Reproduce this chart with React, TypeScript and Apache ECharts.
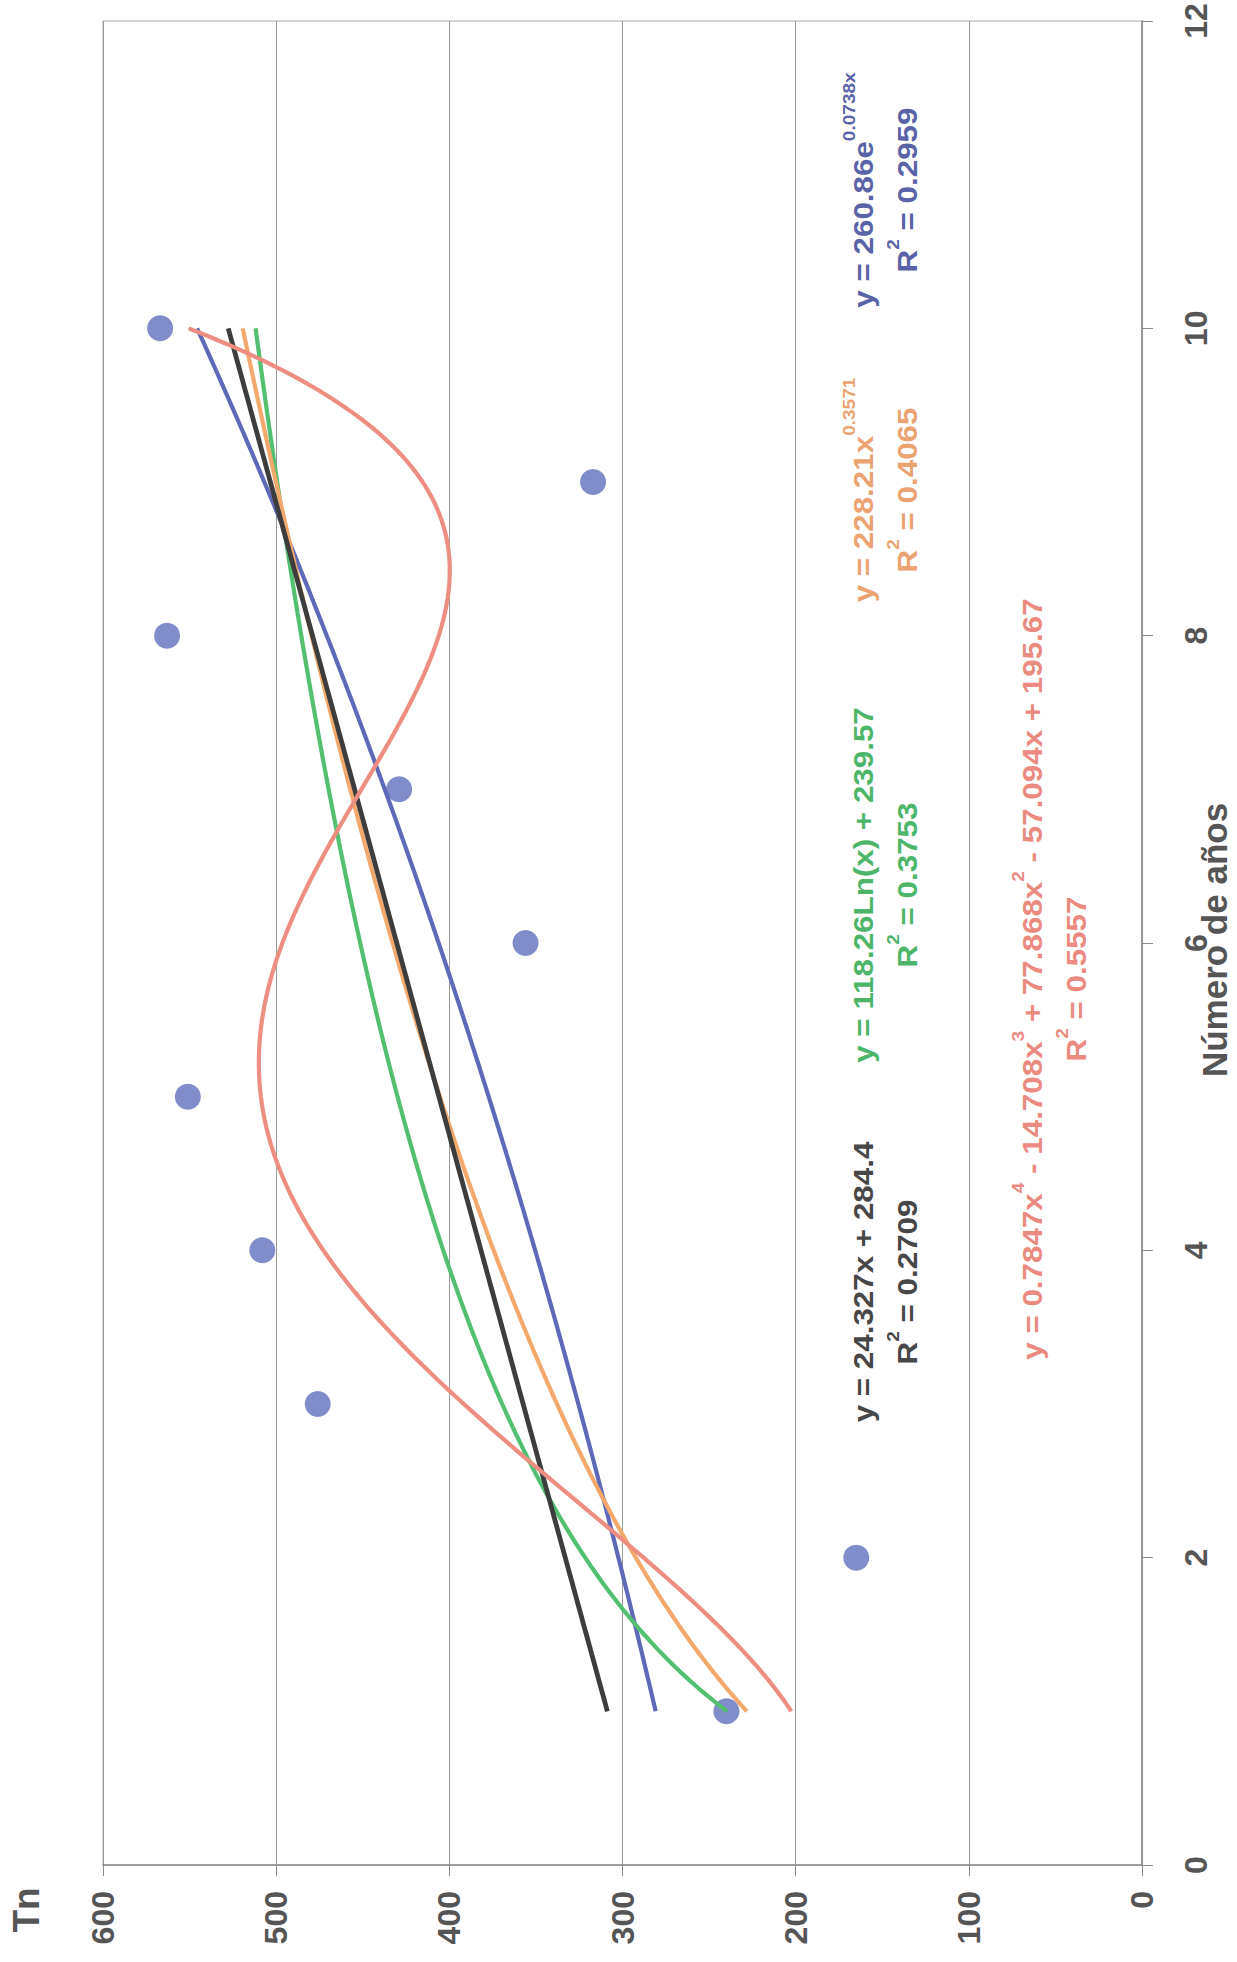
import React, { useEffect, useRef } from "react";
import * as echarts from "echarts";

// ---- data ----
const years = [1, 2, 3, 4, 5, 6, 7, 8, 9, 10];
const tnValues = [240, 165, 476, 508, 551, 356, 429, 563, 317, 567];
const tnTicks = [0, 100, 200, 300, 400, 500, 600];
const yearTicks = [0, 2, 4, 6, 8, 10, 12];

// trendline coefficients as printed on the chart
const linearCoef = [24.327, 284.4];
const expCoef = [260.86, 0.0738];
const powerCoef = [228.21, 0.3571];
const logCoef = [118.26, 239.57];
const polyCoef = [0.7847, -14.708, 77.868, -57.094, 195.67];
const trendRange = [1, 10];

const eqLinear = "y = 24.327x + 284.4\nR{sup|2} = 0.2709";
const eqExp = "y = 260.86e{sup|0.0738x}\nR{sup|2} = 0.2959";
const eqPower = "y = 228.21x{sup|0.3571}\nR{sup|2} = 0.4065";
const eqLog = "y = 118.26Ln(x) + 239.57\nR{sup|2} = 0.3753";
const eqPoly =
  "y = 0.7847x{sup|4} - 14.708x{sup|3} + 77.868x{sup|2} - 57.094x + 195.67\nR{sup|2} = 0.5557";

const FONT = "'Liberation Sans', Arial, sans-serif";

function trend(f: (x: number) => number) {
  const out: number[][] = [];
  const n = 180;
  for (let i = 0; i <= n; i++) {
    const x = trendRange[0] + ((trendRange[1] - trendRange[0]) * i) / n;
    out.push([f(x), x]);
  }
  return out;
}

function eqText(x: number, y: number, text: string, color: string) {
  return {
    type: "text",
    x,
    y,
    rotation: Math.PI / 2,
    scaleX: 1.12,
    z: 100,
    style: {
      text,
      fill: color,
      fontSize: 28,
      fontWeight: "bold",
      fontFamily: FONT,
      align: "center",
      verticalAlign: "middle",
      lineHeight: 44,
      rich: {
        sup: {
          fontSize: 17,
          fontWeight: "bold",
          fontFamily: FONT,
          fill: color,
          verticalAlign: "top",
          lineHeight: 24,
        },
      },
    },
  };
}

export default function App() {
  const ref = useRef<HTMLDivElement>(null);
  useEffect(() => {
    if (!ref.current) return;
    const chart = echarts.init(ref.current, null, { renderer: "svg" });
    const lineStyle = (c: string, w = 4.2) => ({ color: c, width: w });
    chart.setOption({
      animation: false,
      backgroundColor: "#ffffff",
      grid: {
        left: 103,
        right: 95,
        top: 21,
        bottom: 97,
        show: true,
        borderColor: "#a8a8a8",
        borderWidth: 1,
      },
      xAxis: {
        type: "value",
        min: tnTicks[0],
        max: tnTicks[tnTicks.length - 1],
        interval: tnTicks[1] - tnTicks[0],
        inverse: true,
        position: "bottom",
        axisLine: { show: true, lineStyle: { color: "#8a8a8a", width: 1.5 } },
        axisTick: { show: true, length: 11, lineStyle: { color: "#8a8a8a" } },
        splitLine: { show: true, lineStyle: { color: "#9a9a9a", width: 1 } },
        axisLabel: {
          rotate: 90,
          margin: 26,
          fontSize: 32,
          fontWeight: "bold",
          fontFamily: FONT,
          color: "#555555",
        },
      },
      yAxis: {
        type: "value",
        min: yearTicks[0],
        max: yearTicks[yearTicks.length - 1],
        interval: yearTicks[1] - yearTicks[0],
        position: "right",
        axisLine: { show: true, lineStyle: { color: "#8a8a8a", width: 1.5 } },
        axisTick: { show: true, length: 11, lineStyle: { color: "#8a8a8a" } },
        splitLine: { show: false },
        axisLabel: {
          rotate: 90,
          margin: 38,
          fontSize: 32,
          fontWeight: "bold",
          fontFamily: FONT,
          color: "#555555",
        },
      },
      series: [
        {
          type: "scatter",
          data: years.map((y, i) => [tnValues[i], y]),
          symbolSize: 26,
          itemStyle: { color: "#6270bd" },
          z: 1,
        },
        {
          type: "line",
          data: trend((x) => expCoef[0] * Math.exp(expCoef[1] * x)),
          showSymbol: false,
          lineStyle: lineStyle("#5e6ab8"),
          z: 2,
        },
        {
          type: "line",
          data: trend((x) => logCoef[0] * Math.log(x) + logCoef[1]),
          showSymbol: false,
          lineStyle: lineStyle("#52c070"),
          z: 3,
        },
        {
          type: "line",
          data: trend((x) => powerCoef[0] * Math.pow(x, powerCoef[1])),
          showSymbol: false,
          lineStyle: lineStyle("#f2a96b"),
          z: 4,
        },
        {
          type: "line",
          data: trend((x) => linearCoef[0] * x + linearCoef[1]),
          showSymbol: false,
          lineStyle: lineStyle("#3d3d3d", 4.8),
          z: 5,
        },
        {
          type: "line",
          data: trend(
            (x) =>
              polyCoef[0] * x ** 4 +
              polyCoef[1] * x ** 3 +
              polyCoef[2] * x ** 2 +
              polyCoef[3] * x +
              polyCoef[4]
          ),
          showSymbol: false,
          lineStyle: lineStyle("#ec8e82"),
          z: 6,
        },
      ],
      graphic: [
        eqText(885, 190, eqExp, "#5a63a8"),
        eqText(885, 490, eqPower, "#eba372"),
        eqText(885, 885, eqLog, "#4db56a"),
        eqText(885, 1282, eqLinear, "#474747"),
        eqText(1054, 979, eqPoly, "#ea8a80"),
        {
          type: "text",
          x: 1214,
          y: 940,
          rotation: Math.PI / 2,
          style: {
            text: "Número de años",
            fill: "#555555",
            fontSize: 35,
            fontWeight: "bold",
            fontFamily: FONT,
            align: "center",
            verticalAlign: "middle",
          },
        },
        {
          type: "text",
          x: 26,
          y: 1910,
          rotation: Math.PI / 2,
          style: {
            text: "Tn",
            fill: "#555555",
            fontSize: 37,
            fontWeight: "bold",
            fontFamily: FONT,
            align: "center",
            verticalAlign: "middle",
          },
        },
      ],
    });
    return () => chart.dispose();
  }, []);
  return (
    <div
      ref={ref}
      style={{ position: "absolute", left: 0, top: 0, width: 1237, height: 1962 }}
    />
  );
}
